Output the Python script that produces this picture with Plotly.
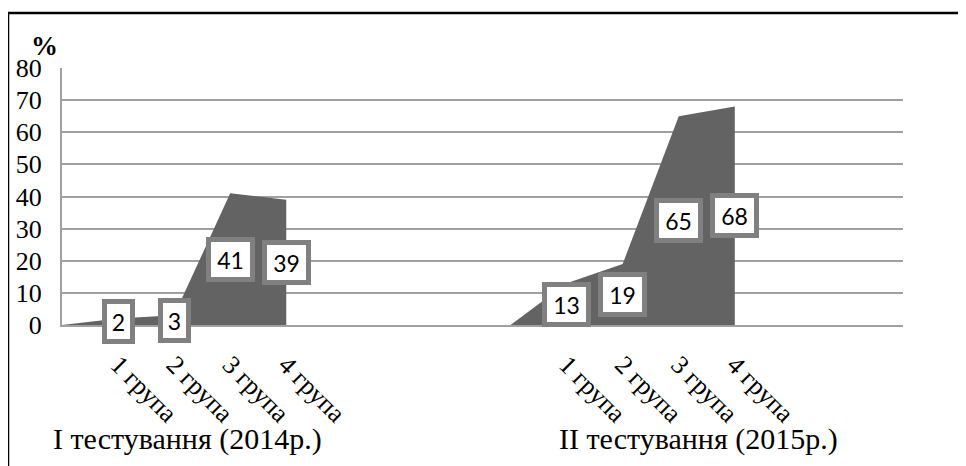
import plotly.graph_objects as go

# ---- data ----
group1_x = [0, 1, 2, 3, 4]
group1_y = [0, 2, 3, 41, 39]
group2_x = [8, 9, 10, 11, 12]
group2_y = [0, 13, 19, 65, 68]
tick_positions = [1, 2, 3, 4, 9, 10, 11, 12]
tick_labels = ["1 група", "2 група", "3 група", "4 група",
               "1 група", "2 група", "3 група", "4 група"]
group_labels = ["I тестування (2014р.)", "II тестування (2015р.)"]
group_label_pos = [2.23, 11.35]
y_ticks = [0, 10, 20, 30, 40, 50, 60, 70, 80]

# page has an 8px body margin; figure coordinates = page coordinates - 8
OFF = 8
W, H = 966 - OFF, 466 - OFF
L, R, T, B = 62 - OFF, W - (903 - OFF), 68 - OFF, H - (325.5 - OFF)
pw, ph = W - L - R, H - T - B


def px_x(page_x):
    return (page_x - OFF - L) / pw


def px_y(page_y):
    return (T + ph - (page_y - OFF)) / ph


SERIF = "Liberation Serif, Times New Roman, serif"
SANS = "Lato, Carlito, Calibri, sans-serif"
FILL = "#636363"
GRID = "#a0a0a0"

fig = go.Figure()
for xs, ys in [(group1_x, group1_y), (group2_x, group2_y)]:
    fig.add_trace(go.Scatter(x=xs, y=ys, mode="lines", fill="tozeroy",
                             line=dict(width=0, color=FILL), fillcolor=FILL,
                             hoverinfo="skip", showlegend=False))

annotations = []
for xs, ys in [(group1_x, group1_y), (group2_x, group2_y)]:
    for xv, yv in zip(xs[1:], ys[1:]):
        txt = str(yv)
        annotations.append(dict(
            x=xv, y=yv / 2, xref="x", yref="y", text=txt, showarrow=False,
            font=dict(family=SANS, size=23, color="black"),
            bgcolor="white", bordercolor="#808080", borderwidth=5, borderpad=2,
            width=16 * len(txt) + 3, height=31, align="center",
            xanchor="center", yanchor="middle"))

for lab, pos in zip(group_labels, group_label_pos):
    annotations.append(dict(
        x=pos, y=px_y(440), xref="x", yref="paper", text=lab,
        showarrow=False, font=dict(family=SERIF, size=30, color="black"),
        xanchor="center", yanchor="middle"))

annotations.append(dict(
    x=px_x(44), y=px_y(46), xref="paper", yref="paper",
    text="<b>%</b>", showarrow=False,
    font=dict(family=SERIF, size=27, color="black"),
    xanchor="center", yanchor="middle"))

fig.update_layout(
    width=W, height=H,
    margin=dict(l=L, r=R, t=T, b=B, pad=0, autoexpand=False),
    paper_bgcolor="white", plot_bgcolor="white",
    annotations=annotations,
    shapes=[dict(type="path", xref="paper", yref="paper",
                 path=f"M {px_x(8)} {px_y(490)} L {px_x(8)} {px_y(13)} L {px_x(990)} {px_y(13)}",
                 line=dict(color="black", width=2.5))],
    xaxis=dict(range=[0, 15], tickmode="array", tickvals=tick_positions,
               ticktext=tick_labels, tickangle=45, showgrid=False,
               zeroline=False, showline=True, linecolor=GRID, linewidth=2,
               ticks="", ticklabelstandoff=12, automargin=False,
               tickfont=dict(family=SERIF, size=26, color="black")),
    yaxis=dict(range=[0, 80], tickmode="array", tickvals=y_ticks,
               showgrid=True, gridcolor=GRID, gridwidth=2,
               zeroline=False, showline=True, linecolor=GRID, linewidth=2,
               ticks="", ticklabelstandoff=13, automargin=False,
               tickfont=dict(family=SERIF, size=26, color="black")),
)

fig.write_html("out.html")
